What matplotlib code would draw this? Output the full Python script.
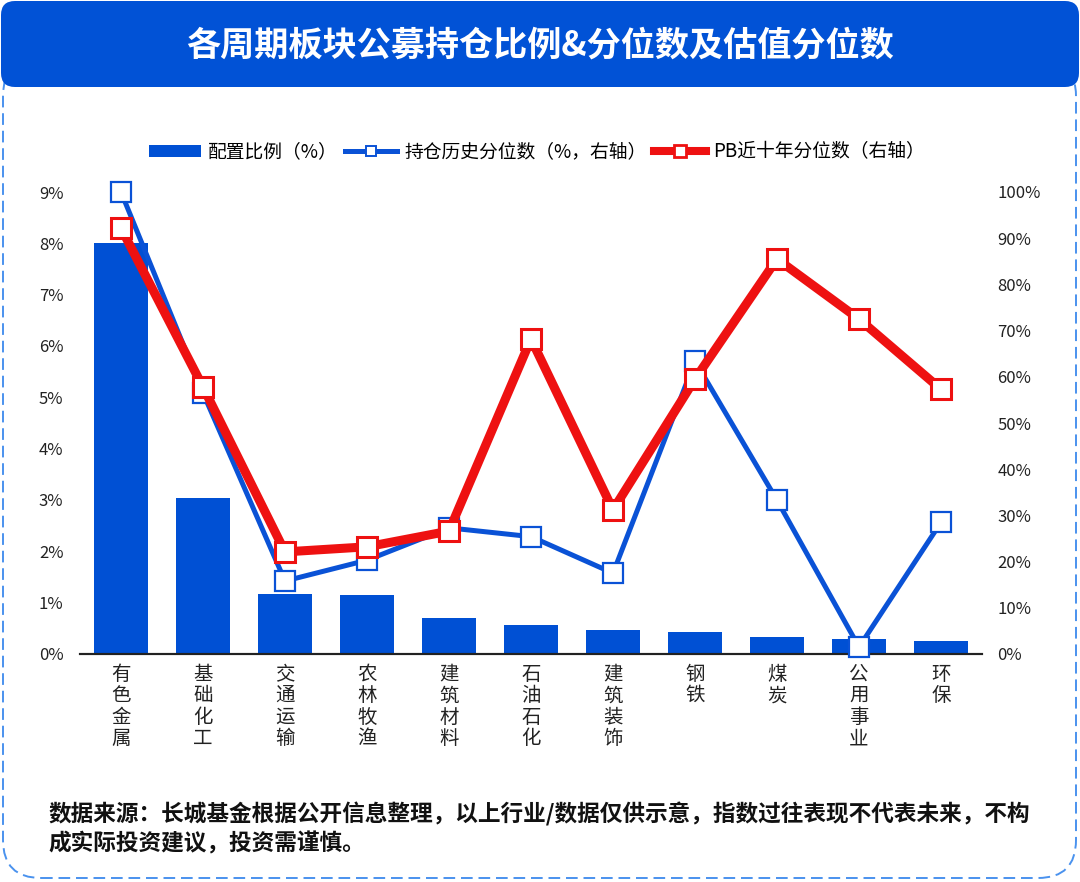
import numpy as np
import matplotlib
matplotlib.use("Agg")
import matplotlib.pyplot as plt
from matplotlib.patches import FancyBboxPatch, Patch
from matplotlib.lines import Line2D
from matplotlib.transforms import IdentityTransform
from matplotlib.ticker import FuncFormatter

plt.rcParams['font.family'] = ['Noto Sans CJK SC', 'DejaVu Sans']

# 数据
sectors = ["有色金属", "基础化工", "交通运输", "农林牧渔", "建筑材料", "石油石化",
           "建筑装饰", "钢铁", "煤炭", "公用事业", "环保"]
alloc = [8.0, 3.04, 1.17, 1.15, 0.71, 0.56, 0.46, 0.42, 0.34, 0.30, 0.26]
hold_pct = [100, 56.5, 15.8, 20.3, 27.3, 25.4, 17.5, 63.4, 33.3, 1.5, 28.5]
pb_pct = [92.2, 57.8, 22.1, 23.2, 26.6, 68.2, 31.2, 59.5, 85.5, 72.5, 57.3]

left_ticks = list(range(0, 10))
right_ticks = list(range(0, 101, 10))

title = "各周期板块公募持仓比例&分位数及估值分位数"
note = ("数据来源：长城基金根据公开信息整理，以上行业/数据仅供示意，指数过往表现不代表未来，不构\n"
        "成实际投资建议，投资需谨慎。")

bar_c = "#0050D4"
blue_c = "#0A52D6"
red_c = "#EE1111"

W, H = 1080, 882
fig = plt.figure(figsize=(W / 100, H / 100), dpi=100)

# 虚线边框 + 标题栏
border = FancyBboxPatch((3, 4), 1073, 820, boxstyle="round,pad=0,rounding_size=38",
                        transform=IdentityTransform(), facecolor="none",
                        edgecolor="#4A92EE", linewidth=1.4, linestyle=(0, (6, 3)))
fig.patches.append(border)
banner = FancyBboxPatch((1, H - 87), W - 2, 86, boxstyle="round,pad=0,rounding_size=14",
                        transform=IdentityTransform(), facecolor="#0152D6",
                        edgecolor="none")
fig.patches.append(banner)
fig.text(0.5, 1 - 45 / H, title, color="white", fontsize=24.6, fontweight="bold",
         ha="center", va="center")

ax = fig.add_axes([80 / W, 1 - 654 / H, (982 - 80) / W, (654 - 192) / H])
ax2 = ax.twinx()

x = np.arange(len(sectors))
ax.bar(x, alloc, width=0.66, color=bar_c, zorder=2)
ax.set_xlim(-0.5, len(sectors) - 0.5)
ax.set_ylim(0, 9)
ax.set_yticks(left_ticks)
ax.yaxis.set_major_formatter(FuncFormatter(lambda v, p: f"{v:.0f}%"))
ax.set_xticks(x)
ax.set_xticklabels(["\n".join(s) for s in sectors], linespacing=1.03, va="top")

ax2.plot(x, hold_pct, color=blue_c, lw=3.6, marker="s", ms=14, mfc="white",
         mec=blue_c, mew=1.6, clip_on=False, zorder=3)
ax2.plot(x, pb_pct, color=red_c, lw=6.5, marker="s", ms=14, mfc="white",
         mec=red_c, mew=2.2, clip_on=False, zorder=4)
ax2.set_ylim(0, 100)
ax2.set_yticks(right_ticks)
ax2.yaxis.set_major_formatter(FuncFormatter(lambda v, p: f"{v:.0f}%"))

for a in (ax, ax2):
    for s in ("top", "left", "right"):
        a.spines[s].set_visible(False)
    a.spines["bottom"].set_linewidth(1.5)
    a.spines["bottom"].set_color("#222222")
    a.tick_params(axis="y", length=0, labelsize=12, colors="#222222")
ax.tick_params(axis="y", pad=12)
ax2.tick_params(axis="y", pad=11)
ax.tick_params(axis="x", length=0, pad=7, labelsize=14, colors="#222222")
ax2.tick_params(axis="x", length=0)

handles = [
    Patch(facecolor=bar_c, edgecolor="none"),
    Line2D([], [], color=blue_c, lw=3.6, marker="s", ms=7.5, mfc="white", mec=blue_c, mew=1.4),
    Line2D([], [], color=red_c, lw=5.8, marker="s", ms=8.5, mfc="white", mec=red_c, mew=2.0),
]
labels = ["配置比例（%）", "持仓历史分位数（%，右轴）", "PB近十年分位数（右轴）"]
fig.legend(handles, labels, loc="center", bbox_to_anchor=(0.497, 1 - 152 / H), ncol=3,
           frameon=False, fontsize=13.5, handlelength=2.8, handletextpad=0.37,
           columnspacing=0.37, handleheight=0.6)

fig.text(48 / W, 1 - 829 / H, note, fontsize=16.3, fontweight="bold", color="#111111",
         ha="left", va="center", linespacing=1.3)

fig.savefig("out.png", dpi=100)
